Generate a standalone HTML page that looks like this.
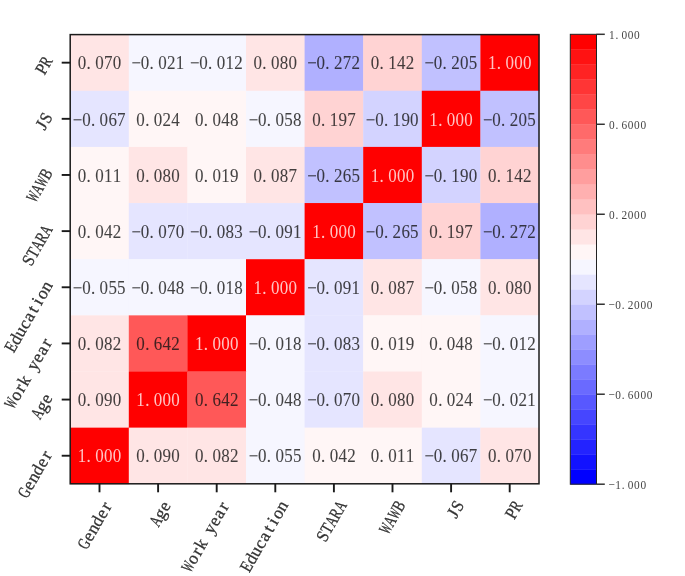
<!DOCTYPE html>
<html><head><meta charset="utf-8"><style>
html,body{margin:0;padding:0;background:#fff;}
body{width:685px;height:576px;overflow:hidden;}
svg{display:block;will-change:transform;filter:blur(0.35px);}
text{font-family:"Liberation Serif",serif;}
</style></head><body>
<svg width="685" height="576" viewBox="0 0 685 576">
<rect width="685" height="576" fill="#fff"/>
<rect x="70.20" y="34.60" width="58.90" height="56.45" fill="#ffe5e5"/>
<rect x="128.80" y="34.60" width="58.90" height="56.45" fill="#f6f6ff"/>
<rect x="187.40" y="34.60" width="58.90" height="56.45" fill="#f6f6ff"/>
<rect x="246.00" y="34.60" width="58.90" height="56.45" fill="#ffe5e5"/>
<rect x="304.60" y="34.60" width="58.90" height="56.45" fill="#b0b0ff"/>
<rect x="363.20" y="34.60" width="58.90" height="56.45" fill="#ffd3d3"/>
<rect x="421.80" y="34.60" width="58.90" height="56.45" fill="#c1c1ff"/>
<rect x="480.40" y="34.60" width="58.90" height="56.45" fill="#ff0000"/>
<rect x="70.20" y="90.75" width="58.90" height="56.45" fill="#e5e5ff"/>
<rect x="128.80" y="90.75" width="58.90" height="56.45" fill="#fff6f6"/>
<rect x="187.40" y="90.75" width="58.90" height="56.45" fill="#fff6f6"/>
<rect x="246.00" y="90.75" width="58.90" height="56.45" fill="#f6f6ff"/>
<rect x="304.60" y="90.75" width="58.90" height="56.45" fill="#ffd3d3"/>
<rect x="363.20" y="90.75" width="58.90" height="56.45" fill="#d3d3ff"/>
<rect x="421.80" y="90.75" width="58.90" height="56.45" fill="#ff0000"/>
<rect x="480.40" y="90.75" width="58.90" height="56.45" fill="#c1c1ff"/>
<rect x="70.20" y="146.90" width="58.90" height="56.45" fill="#fff6f6"/>
<rect x="128.80" y="146.90" width="58.90" height="56.45" fill="#ffe5e5"/>
<rect x="187.40" y="146.90" width="58.90" height="56.45" fill="#fff6f6"/>
<rect x="246.00" y="146.90" width="58.90" height="56.45" fill="#ffe5e5"/>
<rect x="304.60" y="146.90" width="58.90" height="56.45" fill="#c1c1ff"/>
<rect x="363.20" y="146.90" width="58.90" height="56.45" fill="#ff0000"/>
<rect x="421.80" y="146.90" width="58.90" height="56.45" fill="#d3d3ff"/>
<rect x="480.40" y="146.90" width="58.90" height="56.45" fill="#ffd3d3"/>
<rect x="70.20" y="203.05" width="58.90" height="56.45" fill="#fff6f6"/>
<rect x="128.80" y="203.05" width="58.90" height="56.45" fill="#e5e5ff"/>
<rect x="187.40" y="203.05" width="58.90" height="56.45" fill="#e5e5ff"/>
<rect x="246.00" y="203.05" width="58.90" height="56.45" fill="#e5e5ff"/>
<rect x="304.60" y="203.05" width="58.90" height="56.45" fill="#ff0000"/>
<rect x="363.20" y="203.05" width="58.90" height="56.45" fill="#c1c1ff"/>
<rect x="421.80" y="203.05" width="58.90" height="56.45" fill="#ffd3d3"/>
<rect x="480.40" y="203.05" width="58.90" height="56.45" fill="#b0b0ff"/>
<rect x="70.20" y="259.20" width="58.90" height="56.45" fill="#f6f6ff"/>
<rect x="128.80" y="259.20" width="58.90" height="56.45" fill="#f6f6ff"/>
<rect x="187.40" y="259.20" width="58.90" height="56.45" fill="#f6f6ff"/>
<rect x="246.00" y="259.20" width="58.90" height="56.45" fill="#ff0000"/>
<rect x="304.60" y="259.20" width="58.90" height="56.45" fill="#e5e5ff"/>
<rect x="363.20" y="259.20" width="58.90" height="56.45" fill="#ffe5e5"/>
<rect x="421.80" y="259.20" width="58.90" height="56.45" fill="#f6f6ff"/>
<rect x="480.40" y="259.20" width="58.90" height="56.45" fill="#ffe5e5"/>
<rect x="70.20" y="315.35" width="58.90" height="56.45" fill="#ffe5e5"/>
<rect x="128.80" y="315.35" width="58.90" height="56.45" fill="#ff5858"/>
<rect x="187.40" y="315.35" width="58.90" height="56.45" fill="#ff0000"/>
<rect x="246.00" y="315.35" width="58.90" height="56.45" fill="#f6f6ff"/>
<rect x="304.60" y="315.35" width="58.90" height="56.45" fill="#e5e5ff"/>
<rect x="363.20" y="315.35" width="58.90" height="56.45" fill="#fff6f6"/>
<rect x="421.80" y="315.35" width="58.90" height="56.45" fill="#fff6f6"/>
<rect x="480.40" y="315.35" width="58.90" height="56.45" fill="#f6f6ff"/>
<rect x="70.20" y="371.50" width="58.90" height="56.45" fill="#ffe5e5"/>
<rect x="128.80" y="371.50" width="58.90" height="56.45" fill="#ff0000"/>
<rect x="187.40" y="371.50" width="58.90" height="56.45" fill="#ff5858"/>
<rect x="246.00" y="371.50" width="58.90" height="56.45" fill="#f6f6ff"/>
<rect x="304.60" y="371.50" width="58.90" height="56.45" fill="#e5e5ff"/>
<rect x="363.20" y="371.50" width="58.90" height="56.45" fill="#ffe5e5"/>
<rect x="421.80" y="371.50" width="58.90" height="56.45" fill="#fff6f6"/>
<rect x="480.40" y="371.50" width="58.90" height="56.45" fill="#f6f6ff"/>
<rect x="70.20" y="427.65" width="58.90" height="56.45" fill="#ff0000"/>
<rect x="128.80" y="427.65" width="58.90" height="56.45" fill="#ffe5e5"/>
<rect x="187.40" y="427.65" width="58.90" height="56.45" fill="#ffe5e5"/>
<rect x="246.00" y="427.65" width="58.90" height="56.45" fill="#f6f6ff"/>
<rect x="304.60" y="427.65" width="58.90" height="56.45" fill="#fff6f6"/>
<rect x="363.20" y="427.65" width="58.90" height="56.45" fill="#fff6f6"/>
<rect x="421.80" y="427.65" width="58.90" height="56.45" fill="#e5e5ff"/>
<rect x="480.40" y="427.65" width="58.90" height="56.45" fill="#ffe5e5"/>
<g transform="translate(99.50,62.67) scale(0.97,1.05)" opacity="0.8"><text x="-18.04 -11.19 0.00 9.02 18.04" y="6.38" font-size="17.5" fill="#141414" text-anchor="middle" stroke="#141414" stroke-width="0.08">0.070</text></g>
<g transform="translate(158.10,62.67) scale(0.97,1.05)" opacity="0.8"><text x="-22.55 -13.53 -6.68 4.51 13.53 22.55" y="6.38" font-size="17.5" fill="#141414" text-anchor="middle" stroke="#141414" stroke-width="0.08">−0.021</text></g>
<g transform="translate(216.70,62.67) scale(0.97,1.05)" opacity="0.8"><text x="-22.55 -13.53 -6.68 4.51 13.53 22.55" y="6.38" font-size="17.5" fill="#141414" text-anchor="middle" stroke="#141414" stroke-width="0.08">−0.012</text></g>
<g transform="translate(275.30,62.67) scale(0.97,1.05)" opacity="0.8"><text x="-18.04 -11.19 0.00 9.02 18.04" y="6.38" font-size="17.5" fill="#141414" text-anchor="middle" stroke="#141414" stroke-width="0.08">0.080</text></g>
<g transform="translate(333.90,62.67) scale(0.97,1.05)" opacity="0.8"><text x="-22.55 -13.53 -6.68 4.51 13.53 22.55" y="6.38" font-size="17.5" fill="#141414" text-anchor="middle" stroke="#141414" stroke-width="0.08">−0.272</text></g>
<g transform="translate(392.50,62.67) scale(0.97,1.05)" opacity="0.8"><text x="-18.04 -11.19 0.00 9.02 18.04" y="6.38" font-size="17.5" fill="#141414" text-anchor="middle" stroke="#141414" stroke-width="0.08">0.142</text></g>
<g transform="translate(451.10,62.67) scale(0.97,1.05)" opacity="0.8"><text x="-22.55 -13.53 -6.68 4.51 13.53 22.55" y="6.38" font-size="17.5" fill="#141414" text-anchor="middle" stroke="#141414" stroke-width="0.08">−0.205</text></g>
<g transform="translate(509.70,62.67) scale(0.97,1.05)" opacity="1"><text x="-18.04 -11.19 0.00 9.02 18.04" y="6.38" font-size="17.5" fill="#ffc4c4" text-anchor="middle" stroke="#ffc4c4" stroke-width="0">1.000</text></g>
<g transform="translate(99.50,118.82) scale(0.97,1.05)" opacity="0.8"><text x="-22.55 -13.53 -6.68 4.51 13.53 22.55" y="6.38" font-size="17.5" fill="#141414" text-anchor="middle" stroke="#141414" stroke-width="0.08">−0.067</text></g>
<g transform="translate(158.10,118.82) scale(0.97,1.05)" opacity="0.8"><text x="-18.04 -11.19 0.00 9.02 18.04" y="6.38" font-size="17.5" fill="#141414" text-anchor="middle" stroke="#141414" stroke-width="0.08">0.024</text></g>
<g transform="translate(216.70,118.82) scale(0.97,1.05)" opacity="0.8"><text x="-18.04 -11.19 0.00 9.02 18.04" y="6.38" font-size="17.5" fill="#141414" text-anchor="middle" stroke="#141414" stroke-width="0.08">0.048</text></g>
<g transform="translate(275.30,118.82) scale(0.97,1.05)" opacity="0.8"><text x="-22.55 -13.53 -6.68 4.51 13.53 22.55" y="6.38" font-size="17.5" fill="#141414" text-anchor="middle" stroke="#141414" stroke-width="0.08">−0.058</text></g>
<g transform="translate(333.90,118.82) scale(0.97,1.05)" opacity="0.8"><text x="-18.04 -11.19 0.00 9.02 18.04" y="6.38" font-size="17.5" fill="#141414" text-anchor="middle" stroke="#141414" stroke-width="0.08">0.197</text></g>
<g transform="translate(392.50,118.82) scale(0.97,1.05)" opacity="0.8"><text x="-22.55 -13.53 -6.68 4.51 13.53 22.55" y="6.38" font-size="17.5" fill="#141414" text-anchor="middle" stroke="#141414" stroke-width="0.08">−0.190</text></g>
<g transform="translate(451.10,118.82) scale(0.97,1.05)" opacity="1"><text x="-18.04 -11.19 0.00 9.02 18.04" y="6.38" font-size="17.5" fill="#ffc4c4" text-anchor="middle" stroke="#ffc4c4" stroke-width="0">1.000</text></g>
<g transform="translate(509.70,118.82) scale(0.97,1.05)" opacity="0.8"><text x="-22.55 -13.53 -6.68 4.51 13.53 22.55" y="6.38" font-size="17.5" fill="#141414" text-anchor="middle" stroke="#141414" stroke-width="0.08">−0.205</text></g>
<g transform="translate(99.50,174.97) scale(0.97,1.05)" opacity="0.8"><text x="-18.04 -11.19 0.00 9.02 18.04" y="6.38" font-size="17.5" fill="#141414" text-anchor="middle" stroke="#141414" stroke-width="0.08">0.011</text></g>
<g transform="translate(158.10,174.97) scale(0.97,1.05)" opacity="0.8"><text x="-18.04 -11.19 0.00 9.02 18.04" y="6.38" font-size="17.5" fill="#141414" text-anchor="middle" stroke="#141414" stroke-width="0.08">0.080</text></g>
<g transform="translate(216.70,174.97) scale(0.97,1.05)" opacity="0.8"><text x="-18.04 -11.19 0.00 9.02 18.04" y="6.38" font-size="17.5" fill="#141414" text-anchor="middle" stroke="#141414" stroke-width="0.08">0.019</text></g>
<g transform="translate(275.30,174.97) scale(0.97,1.05)" opacity="0.8"><text x="-18.04 -11.19 0.00 9.02 18.04" y="6.38" font-size="17.5" fill="#141414" text-anchor="middle" stroke="#141414" stroke-width="0.08">0.087</text></g>
<g transform="translate(333.90,174.97) scale(0.97,1.05)" opacity="0.8"><text x="-22.55 -13.53 -6.68 4.51 13.53 22.55" y="6.38" font-size="17.5" fill="#141414" text-anchor="middle" stroke="#141414" stroke-width="0.08">−0.265</text></g>
<g transform="translate(392.50,174.97) scale(0.97,1.05)" opacity="1"><text x="-18.04 -11.19 0.00 9.02 18.04" y="6.38" font-size="17.5" fill="#ffc4c4" text-anchor="middle" stroke="#ffc4c4" stroke-width="0">1.000</text></g>
<g transform="translate(451.10,174.97) scale(0.97,1.05)" opacity="0.8"><text x="-22.55 -13.53 -6.68 4.51 13.53 22.55" y="6.38" font-size="17.5" fill="#141414" text-anchor="middle" stroke="#141414" stroke-width="0.08">−0.190</text></g>
<g transform="translate(509.70,174.97) scale(0.97,1.05)" opacity="0.8"><text x="-18.04 -11.19 0.00 9.02 18.04" y="6.38" font-size="17.5" fill="#141414" text-anchor="middle" stroke="#141414" stroke-width="0.08">0.142</text></g>
<g transform="translate(99.50,231.12) scale(0.97,1.05)" opacity="0.8"><text x="-18.04 -11.19 0.00 9.02 18.04" y="6.38" font-size="17.5" fill="#141414" text-anchor="middle" stroke="#141414" stroke-width="0.08">0.042</text></g>
<g transform="translate(158.10,231.12) scale(0.97,1.05)" opacity="0.8"><text x="-22.55 -13.53 -6.68 4.51 13.53 22.55" y="6.38" font-size="17.5" fill="#141414" text-anchor="middle" stroke="#141414" stroke-width="0.08">−0.070</text></g>
<g transform="translate(216.70,231.12) scale(0.97,1.05)" opacity="0.8"><text x="-22.55 -13.53 -6.68 4.51 13.53 22.55" y="6.38" font-size="17.5" fill="#141414" text-anchor="middle" stroke="#141414" stroke-width="0.08">−0.083</text></g>
<g transform="translate(275.30,231.12) scale(0.97,1.05)" opacity="0.8"><text x="-22.55 -13.53 -6.68 4.51 13.53 22.55" y="6.38" font-size="17.5" fill="#141414" text-anchor="middle" stroke="#141414" stroke-width="0.08">−0.091</text></g>
<g transform="translate(333.90,231.12) scale(0.97,1.05)" opacity="1"><text x="-18.04 -11.19 0.00 9.02 18.04" y="6.38" font-size="17.5" fill="#ffc4c4" text-anchor="middle" stroke="#ffc4c4" stroke-width="0">1.000</text></g>
<g transform="translate(392.50,231.12) scale(0.97,1.05)" opacity="0.8"><text x="-22.55 -13.53 -6.68 4.51 13.53 22.55" y="6.38" font-size="17.5" fill="#141414" text-anchor="middle" stroke="#141414" stroke-width="0.08">−0.265</text></g>
<g transform="translate(451.10,231.12) scale(0.97,1.05)" opacity="0.8"><text x="-18.04 -11.19 0.00 9.02 18.04" y="6.38" font-size="17.5" fill="#141414" text-anchor="middle" stroke="#141414" stroke-width="0.08">0.197</text></g>
<g transform="translate(509.70,231.12) scale(0.97,1.05)" opacity="0.8"><text x="-22.55 -13.53 -6.68 4.51 13.53 22.55" y="6.38" font-size="17.5" fill="#141414" text-anchor="middle" stroke="#141414" stroke-width="0.08">−0.272</text></g>
<g transform="translate(99.50,287.27) scale(0.97,1.05)" opacity="0.8"><text x="-22.55 -13.53 -6.68 4.51 13.53 22.55" y="6.38" font-size="17.5" fill="#141414" text-anchor="middle" stroke="#141414" stroke-width="0.08">−0.055</text></g>
<g transform="translate(158.10,287.27) scale(0.97,1.05)" opacity="0.8"><text x="-22.55 -13.53 -6.68 4.51 13.53 22.55" y="6.38" font-size="17.5" fill="#141414" text-anchor="middle" stroke="#141414" stroke-width="0.08">−0.048</text></g>
<g transform="translate(216.70,287.27) scale(0.97,1.05)" opacity="0.8"><text x="-22.55 -13.53 -6.68 4.51 13.53 22.55" y="6.38" font-size="17.5" fill="#141414" text-anchor="middle" stroke="#141414" stroke-width="0.08">−0.018</text></g>
<g transform="translate(275.30,287.27) scale(0.97,1.05)" opacity="1"><text x="-18.04 -11.19 0.00 9.02 18.04" y="6.38" font-size="17.5" fill="#ffc4c4" text-anchor="middle" stroke="#ffc4c4" stroke-width="0">1.000</text></g>
<g transform="translate(333.90,287.27) scale(0.97,1.05)" opacity="0.8"><text x="-22.55 -13.53 -6.68 4.51 13.53 22.55" y="6.38" font-size="17.5" fill="#141414" text-anchor="middle" stroke="#141414" stroke-width="0.08">−0.091</text></g>
<g transform="translate(392.50,287.27) scale(0.97,1.05)" opacity="0.8"><text x="-18.04 -11.19 0.00 9.02 18.04" y="6.38" font-size="17.5" fill="#141414" text-anchor="middle" stroke="#141414" stroke-width="0.08">0.087</text></g>
<g transform="translate(451.10,287.27) scale(0.97,1.05)" opacity="0.8"><text x="-22.55 -13.53 -6.68 4.51 13.53 22.55" y="6.38" font-size="17.5" fill="#141414" text-anchor="middle" stroke="#141414" stroke-width="0.08">−0.058</text></g>
<g transform="translate(509.70,287.27) scale(0.97,1.05)" opacity="0.8"><text x="-18.04 -11.19 0.00 9.02 18.04" y="6.38" font-size="17.5" fill="#141414" text-anchor="middle" stroke="#141414" stroke-width="0.08">0.080</text></g>
<g transform="translate(99.50,343.43) scale(0.97,1.05)" opacity="0.8"><text x="-18.04 -11.19 0.00 9.02 18.04" y="6.38" font-size="17.5" fill="#141414" text-anchor="middle" stroke="#141414" stroke-width="0.08">0.082</text></g>
<g transform="translate(158.10,343.43) scale(0.97,1.05)" opacity="0.8"><text x="-18.04 -11.19 0.00 9.02 18.04" y="6.38" font-size="17.5" fill="#141414" text-anchor="middle" stroke="#141414" stroke-width="0.08">0.642</text></g>
<g transform="translate(216.70,343.43) scale(0.97,1.05)" opacity="1"><text x="-18.04 -11.19 0.00 9.02 18.04" y="6.38" font-size="17.5" fill="#ffc4c4" text-anchor="middle" stroke="#ffc4c4" stroke-width="0">1.000</text></g>
<g transform="translate(275.30,343.43) scale(0.97,1.05)" opacity="0.8"><text x="-22.55 -13.53 -6.68 4.51 13.53 22.55" y="6.38" font-size="17.5" fill="#141414" text-anchor="middle" stroke="#141414" stroke-width="0.08">−0.018</text></g>
<g transform="translate(333.90,343.43) scale(0.97,1.05)" opacity="0.8"><text x="-22.55 -13.53 -6.68 4.51 13.53 22.55" y="6.38" font-size="17.5" fill="#141414" text-anchor="middle" stroke="#141414" stroke-width="0.08">−0.083</text></g>
<g transform="translate(392.50,343.43) scale(0.97,1.05)" opacity="0.8"><text x="-18.04 -11.19 0.00 9.02 18.04" y="6.38" font-size="17.5" fill="#141414" text-anchor="middle" stroke="#141414" stroke-width="0.08">0.019</text></g>
<g transform="translate(451.10,343.43) scale(0.97,1.05)" opacity="0.8"><text x="-18.04 -11.19 0.00 9.02 18.04" y="6.38" font-size="17.5" fill="#141414" text-anchor="middle" stroke="#141414" stroke-width="0.08">0.048</text></g>
<g transform="translate(509.70,343.43) scale(0.97,1.05)" opacity="0.8"><text x="-22.55 -13.53 -6.68 4.51 13.53 22.55" y="6.38" font-size="17.5" fill="#141414" text-anchor="middle" stroke="#141414" stroke-width="0.08">−0.012</text></g>
<g transform="translate(99.50,399.57) scale(0.97,1.05)" opacity="0.8"><text x="-18.04 -11.19 0.00 9.02 18.04" y="6.38" font-size="17.5" fill="#141414" text-anchor="middle" stroke="#141414" stroke-width="0.08">0.090</text></g>
<g transform="translate(158.10,399.57) scale(0.97,1.05)" opacity="1"><text x="-18.04 -11.19 0.00 9.02 18.04" y="6.38" font-size="17.5" fill="#ffc4c4" text-anchor="middle" stroke="#ffc4c4" stroke-width="0">1.000</text></g>
<g transform="translate(216.70,399.57) scale(0.97,1.05)" opacity="0.8"><text x="-18.04 -11.19 0.00 9.02 18.04" y="6.38" font-size="17.5" fill="#141414" text-anchor="middle" stroke="#141414" stroke-width="0.08">0.642</text></g>
<g transform="translate(275.30,399.57) scale(0.97,1.05)" opacity="0.8"><text x="-22.55 -13.53 -6.68 4.51 13.53 22.55" y="6.38" font-size="17.5" fill="#141414" text-anchor="middle" stroke="#141414" stroke-width="0.08">−0.048</text></g>
<g transform="translate(333.90,399.57) scale(0.97,1.05)" opacity="0.8"><text x="-22.55 -13.53 -6.68 4.51 13.53 22.55" y="6.38" font-size="17.5" fill="#141414" text-anchor="middle" stroke="#141414" stroke-width="0.08">−0.070</text></g>
<g transform="translate(392.50,399.57) scale(0.97,1.05)" opacity="0.8"><text x="-18.04 -11.19 0.00 9.02 18.04" y="6.38" font-size="17.5" fill="#141414" text-anchor="middle" stroke="#141414" stroke-width="0.08">0.080</text></g>
<g transform="translate(451.10,399.57) scale(0.97,1.05)" opacity="0.8"><text x="-18.04 -11.19 0.00 9.02 18.04" y="6.38" font-size="17.5" fill="#141414" text-anchor="middle" stroke="#141414" stroke-width="0.08">0.024</text></g>
<g transform="translate(509.70,399.57) scale(0.97,1.05)" opacity="0.8"><text x="-22.55 -13.53 -6.68 4.51 13.53 22.55" y="6.38" font-size="17.5" fill="#141414" text-anchor="middle" stroke="#141414" stroke-width="0.08">−0.021</text></g>
<g transform="translate(99.50,455.73) scale(0.97,1.05)" opacity="1"><text x="-18.04 -11.19 0.00 9.02 18.04" y="6.38" font-size="17.5" fill="#ffc4c4" text-anchor="middle" stroke="#ffc4c4" stroke-width="0">1.000</text></g>
<g transform="translate(158.10,455.73) scale(0.97,1.05)" opacity="0.8"><text x="-18.04 -11.19 0.00 9.02 18.04" y="6.38" font-size="17.5" fill="#141414" text-anchor="middle" stroke="#141414" stroke-width="0.08">0.090</text></g>
<g transform="translate(216.70,455.73) scale(0.97,1.05)" opacity="0.8"><text x="-18.04 -11.19 0.00 9.02 18.04" y="6.38" font-size="17.5" fill="#141414" text-anchor="middle" stroke="#141414" stroke-width="0.08">0.082</text></g>
<g transform="translate(275.30,455.73) scale(0.97,1.05)" opacity="0.8"><text x="-22.55 -13.53 -6.68 4.51 13.53 22.55" y="6.38" font-size="17.5" fill="#141414" text-anchor="middle" stroke="#141414" stroke-width="0.08">−0.055</text></g>
<g transform="translate(333.90,455.73) scale(0.97,1.05)" opacity="0.8"><text x="-18.04 -11.19 0.00 9.02 18.04" y="6.38" font-size="17.5" fill="#141414" text-anchor="middle" stroke="#141414" stroke-width="0.08">0.042</text></g>
<g transform="translate(392.50,455.73) scale(0.97,1.05)" opacity="0.8"><text x="-18.04 -11.19 0.00 9.02 18.04" y="6.38" font-size="17.5" fill="#141414" text-anchor="middle" stroke="#141414" stroke-width="0.08">0.011</text></g>
<g transform="translate(451.10,455.73) scale(0.97,1.05)" opacity="0.8"><text x="-22.55 -13.53 -6.68 4.51 13.53 22.55" y="6.38" font-size="17.5" fill="#141414" text-anchor="middle" stroke="#141414" stroke-width="0.08">−0.067</text></g>
<g transform="translate(509.70,455.73) scale(0.97,1.05)" opacity="0.8"><text x="-18.04 -11.19 0.00 9.02 18.04" y="6.38" font-size="17.5" fill="#141414" text-anchor="middle" stroke="#141414" stroke-width="0.08">0.070</text></g>
<rect x="70.20" y="34.60" width="468.80" height="449.20" fill="none" stroke="#1a1a1a" stroke-width="1.5"/>
<line x1="99.50" y1="483.80" x2="99.50" y2="492.30" stroke="#1a1a1a" stroke-width="1.9"/>
<line x1="158.10" y1="483.80" x2="158.10" y2="492.30" stroke="#1a1a1a" stroke-width="1.9"/>
<line x1="216.70" y1="483.80" x2="216.70" y2="492.30" stroke="#1a1a1a" stroke-width="1.9"/>
<line x1="275.30" y1="483.80" x2="275.30" y2="492.30" stroke="#1a1a1a" stroke-width="1.9"/>
<line x1="333.90" y1="483.80" x2="333.90" y2="492.30" stroke="#1a1a1a" stroke-width="1.9"/>
<line x1="392.50" y1="483.80" x2="392.50" y2="492.30" stroke="#1a1a1a" stroke-width="1.9"/>
<line x1="451.10" y1="483.80" x2="451.10" y2="492.30" stroke="#1a1a1a" stroke-width="1.9"/>
<line x1="509.70" y1="483.80" x2="509.70" y2="492.30" stroke="#1a1a1a" stroke-width="1.9"/>
<line x1="70.20" y1="62.67" x2="61.70" y2="62.67" stroke="#1a1a1a" stroke-width="1.9"/>
<line x1="70.20" y1="118.82" x2="61.70" y2="118.82" stroke="#1a1a1a" stroke-width="1.9"/>
<line x1="70.20" y1="174.97" x2="61.70" y2="174.97" stroke="#1a1a1a" stroke-width="1.9"/>
<line x1="70.20" y1="231.12" x2="61.70" y2="231.12" stroke="#1a1a1a" stroke-width="1.9"/>
<line x1="70.20" y1="287.27" x2="61.70" y2="287.27" stroke="#1a1a1a" stroke-width="1.9"/>
<line x1="70.20" y1="343.43" x2="61.70" y2="343.43" stroke="#1a1a1a" stroke-width="1.9"/>
<line x1="70.20" y1="399.57" x2="61.70" y2="399.57" stroke="#1a1a1a" stroke-width="1.9"/>
<line x1="70.20" y1="455.73" x2="61.70" y2="455.73" stroke="#1a1a1a" stroke-width="1.9"/>
<g transform="translate(102.50,499.00) rotate(-60)" font-size="17.5" fill="#333333" stroke="#333333" stroke-width="0.3" text-anchor="middle"><text x="-69.51" y="12.00" transform="scale(0.692,1)">G</text><text x="-39.38" y="12.00">e</text><text x="-30.62" y="12.00">n</text><text x="-21.88" y="12.00">d</text><text x="-13.12" y="12.00">e</text><text x="-4.38" y="12.00">r</text></g>
<g transform="translate(161.10,499.00) rotate(-60)" font-size="17.5" fill="#333333" stroke="#333333" stroke-width="0.3" text-anchor="middle"><text x="-31.59" y="12.00" transform="scale(0.692,1)">A</text><text x="-13.12" y="12.00">g</text><text x="-4.38" y="12.00">e</text></g>
<g transform="translate(219.70,499.00) rotate(-60)" font-size="17.5" fill="#333333" stroke="#333333" stroke-width="0.3" text-anchor="middle"><text x="-140.40" y="12.00" transform="scale(0.530,1)">W</text><text x="-65.62" y="12.00">o</text><text x="-56.88" y="12.00">r</text><text x="-48.12" y="12.00">k</text><text x="-30.62" y="12.00">y</text><text x="-21.88" y="12.00">e</text><text x="-13.12" y="12.00">a</text><text x="-4.38" y="12.00">r</text></g>
<g transform="translate(278.30,499.00) rotate(-60)" font-size="17.5" fill="#333333" stroke="#333333" stroke-width="0.3" text-anchor="middle"><text x="-90.86" y="12.00" transform="scale(0.819,1)">E</text><text x="-65.62" y="12.00">d</text><text x="-56.88" y="12.00">u</text><text x="-48.12" y="12.00">c</text><text x="-39.38" y="12.00">a</text><text x="-30.62" y="12.00">t</text><text x="-21.88" y="12.00">i</text><text x="-13.12" y="12.00">o</text><text x="-4.38" y="12.00">n</text></g>
<g transform="translate(336.90,499.00) rotate(-60)" font-size="17.5" fill="#333333" stroke="#333333" stroke-width="0.3" text-anchor="middle"><text x="-43.80" y="12.00" transform="scale(0.899,1)">S</text><text x="-37.41" y="12.00" transform="scale(0.819,1)">T</text><text x="-31.59" y="12.00" transform="scale(0.692,1)">A</text><text x="-17.51" y="12.00" transform="scale(0.750,1)">R</text><text x="-6.32" y="12.00" transform="scale(0.692,1)">A</text></g>
<g transform="translate(395.50,499.00) rotate(-60)" font-size="17.5" fill="#333333" stroke="#333333" stroke-width="0.3" text-anchor="middle"><text x="-57.81" y="12.00" transform="scale(0.530,1)">W</text><text x="-31.59" y="12.00" transform="scale(0.692,1)">A</text><text x="-24.78" y="12.00" transform="scale(0.530,1)">W</text><text x="-5.84" y="12.00" transform="scale(0.750,1)">B</text></g>
<g transform="translate(454.10,499.00) rotate(-60)" font-size="17.5" fill="#333333" stroke="#333333" stroke-width="0.3" text-anchor="middle"><text x="-13.12" y="12.00">J</text><text x="-4.87" y="12.00" transform="scale(0.899,1)">S</text></g>
<g transform="translate(512.70,499.00) rotate(-60)" font-size="17.5" fill="#333333" stroke="#333333" stroke-width="0.3" text-anchor="middle"><text x="-14.60" y="12.00" transform="scale(0.899,1)">P</text><text x="-5.84" y="12.00" transform="scale(0.750,1)">R</text></g>
<g transform="translate(48.80,58.17) rotate(-60)" font-size="17.5" fill="#333333" stroke="#333333" stroke-width="0.3" text-anchor="middle"><text x="-14.60" y="5.00" transform="scale(0.899,1)">P</text><text x="-5.84" y="5.00" transform="scale(0.750,1)">R</text></g>
<g transform="translate(48.80,114.32) rotate(-60)" font-size="17.5" fill="#333333" stroke="#333333" stroke-width="0.3" text-anchor="middle"><text x="-13.12" y="5.00">J</text><text x="-4.87" y="5.00" transform="scale(0.899,1)">S</text></g>
<g transform="translate(48.80,170.47) rotate(-60)" font-size="17.5" fill="#333333" stroke="#333333" stroke-width="0.3" text-anchor="middle"><text x="-57.81" y="5.00" transform="scale(0.530,1)">W</text><text x="-31.59" y="5.00" transform="scale(0.692,1)">A</text><text x="-24.78" y="5.00" transform="scale(0.530,1)">W</text><text x="-5.84" y="5.00" transform="scale(0.750,1)">B</text></g>
<g transform="translate(48.80,226.62) rotate(-60)" font-size="17.5" fill="#333333" stroke="#333333" stroke-width="0.3" text-anchor="middle"><text x="-43.80" y="5.00" transform="scale(0.899,1)">S</text><text x="-37.41" y="5.00" transform="scale(0.819,1)">T</text><text x="-31.59" y="5.00" transform="scale(0.692,1)">A</text><text x="-17.51" y="5.00" transform="scale(0.750,1)">R</text><text x="-6.32" y="5.00" transform="scale(0.692,1)">A</text></g>
<g transform="translate(48.80,282.77) rotate(-60)" font-size="17.5" fill="#333333" stroke="#333333" stroke-width="0.3" text-anchor="middle"><text x="-90.86" y="5.00" transform="scale(0.819,1)">E</text><text x="-65.62" y="5.00">d</text><text x="-56.88" y="5.00">u</text><text x="-48.12" y="5.00">c</text><text x="-39.38" y="5.00">a</text><text x="-30.62" y="5.00">t</text><text x="-21.88" y="5.00">i</text><text x="-13.12" y="5.00">o</text><text x="-4.38" y="5.00">n</text></g>
<g transform="translate(48.80,338.93) rotate(-60)" font-size="17.5" fill="#333333" stroke="#333333" stroke-width="0.3" text-anchor="middle"><text x="-140.40" y="5.00" transform="scale(0.530,1)">W</text><text x="-65.62" y="5.00">o</text><text x="-56.88" y="5.00">r</text><text x="-48.12" y="5.00">k</text><text x="-30.62" y="5.00">y</text><text x="-21.88" y="5.00">e</text><text x="-13.12" y="5.00">a</text><text x="-4.38" y="5.00">r</text></g>
<g transform="translate(48.80,395.07) rotate(-60)" font-size="17.5" fill="#333333" stroke="#333333" stroke-width="0.3" text-anchor="middle"><text x="-31.59" y="5.00" transform="scale(0.692,1)">A</text><text x="-13.12" y="5.00">g</text><text x="-4.38" y="5.00">e</text></g>
<g transform="translate(48.80,451.23) rotate(-60)" font-size="17.5" fill="#333333" stroke="#333333" stroke-width="0.3" text-anchor="middle"><text x="-69.51" y="5.00" transform="scale(0.692,1)">G</text><text x="-39.38" y="5.00">e</text><text x="-30.62" y="5.00">n</text><text x="-21.88" y="5.00">d</text><text x="-13.12" y="5.00">e</text><text x="-4.38" y="5.00">r</text></g>
<rect x="570.30" y="469.20" width="26.20" height="15.30" fill="#0000ff"/>
<rect x="570.30" y="454.21" width="26.20" height="15.30" fill="#1212ff"/>
<rect x="570.30" y="439.21" width="26.20" height="15.30" fill="#2323ff"/>
<rect x="570.30" y="424.21" width="26.20" height="15.30" fill="#3535ff"/>
<rect x="570.30" y="409.22" width="26.20" height="15.30" fill="#4646ff"/>
<rect x="570.30" y="394.22" width="26.20" height="15.30" fill="#5858ff"/>
<rect x="570.30" y="379.22" width="26.20" height="15.30" fill="#6a6aff"/>
<rect x="570.30" y="364.23" width="26.20" height="15.30" fill="#7b7bff"/>
<rect x="570.30" y="349.23" width="26.20" height="15.30" fill="#8d8dff"/>
<rect x="570.30" y="334.23" width="26.20" height="15.30" fill="#9e9eff"/>
<rect x="570.30" y="319.24" width="26.20" height="15.30" fill="#b0b0ff"/>
<rect x="570.30" y="304.24" width="26.20" height="15.30" fill="#c1c1ff"/>
<rect x="570.30" y="289.24" width="26.20" height="15.30" fill="#d3d3ff"/>
<rect x="570.30" y="274.25" width="26.20" height="15.30" fill="#e5e5ff"/>
<rect x="570.30" y="259.25" width="26.20" height="15.30" fill="#f6f6ff"/>
<rect x="570.30" y="244.25" width="26.20" height="15.30" fill="#fff6f6"/>
<rect x="570.30" y="229.26" width="26.20" height="15.30" fill="#ffe5e5"/>
<rect x="570.30" y="214.26" width="26.20" height="15.30" fill="#ffd3d3"/>
<rect x="570.30" y="199.26" width="26.20" height="15.30" fill="#ffc1c1"/>
<rect x="570.30" y="184.27" width="26.20" height="15.30" fill="#ffb0b0"/>
<rect x="570.30" y="169.27" width="26.20" height="15.30" fill="#ff9e9e"/>
<rect x="570.30" y="154.27" width="26.20" height="15.30" fill="#ff8d8d"/>
<rect x="570.30" y="139.28" width="26.20" height="15.30" fill="#ff7b7b"/>
<rect x="570.30" y="124.28" width="26.20" height="15.30" fill="#ff6a6a"/>
<rect x="570.30" y="109.28" width="26.20" height="15.30" fill="#ff5858"/>
<rect x="570.30" y="94.29" width="26.20" height="15.30" fill="#ff4646"/>
<rect x="570.30" y="79.29" width="26.20" height="15.30" fill="#ff3535"/>
<rect x="570.30" y="64.29" width="26.20" height="15.30" fill="#ff2323"/>
<rect x="570.30" y="49.30" width="26.20" height="15.30" fill="#ff1212"/>
<rect x="570.30" y="34.30" width="26.20" height="15.30" fill="#ff0000"/>
<rect x="570.30" y="34.30" width="26.20" height="449.90" fill="none" stroke="#222" stroke-width="1"/>
<line x1="596.50" y1="34.30" x2="604.80" y2="34.30" stroke="#333" stroke-width="1.5"/>
<g transform="translate(608.60,34.30) scale(0.9,1.06)"><text x="3.50 9.17 17.50 24.50 31.50" y="4.06" font-size="12.6" fill="#454545" text-anchor="middle" >1.000</text></g>
<line x1="596.50" y1="124.28" x2="604.80" y2="124.28" stroke="#333" stroke-width="1.5"/>
<g transform="translate(608.60,124.28) scale(0.9,1.06)"><text x="3.50 9.17 17.50 24.50 31.50 38.50" y="4.06" font-size="12.6" fill="#454545" text-anchor="middle" >0.6000</text></g>
<line x1="596.50" y1="214.26" x2="604.80" y2="214.26" stroke="#333" stroke-width="1.5"/>
<g transform="translate(608.60,214.26) scale(0.9,1.06)"><text x="3.50 9.17 17.50 24.50 31.50 38.50" y="4.06" font-size="12.6" fill="#454545" text-anchor="middle" >0.2000</text></g>
<line x1="596.50" y1="304.24" x2="604.80" y2="304.24" stroke="#333" stroke-width="1.5"/>
<g transform="translate(608.60,304.24) scale(0.9,1.06)"><text x="3.50 10.50 16.17 24.50 31.50 38.50 45.50" y="4.06" font-size="12.6" fill="#454545" text-anchor="middle" >−0.2000</text></g>
<line x1="596.50" y1="394.22" x2="604.80" y2="394.22" stroke="#333" stroke-width="1.5"/>
<g transform="translate(608.60,394.22) scale(0.9,1.06)"><text x="3.50 10.50 16.17 24.50 31.50 38.50 45.50" y="4.06" font-size="12.6" fill="#454545" text-anchor="middle" >−0.6000</text></g>
<line x1="596.50" y1="484.20" x2="604.80" y2="484.20" stroke="#333" stroke-width="1.5"/>
<g transform="translate(608.60,484.20) scale(0.9,1.06)"><text x="3.50 10.50 16.17 24.50 31.50 38.50" y="4.06" font-size="12.6" fill="#454545" text-anchor="middle" >−1.000</text></g>
</svg>
</body></html>
